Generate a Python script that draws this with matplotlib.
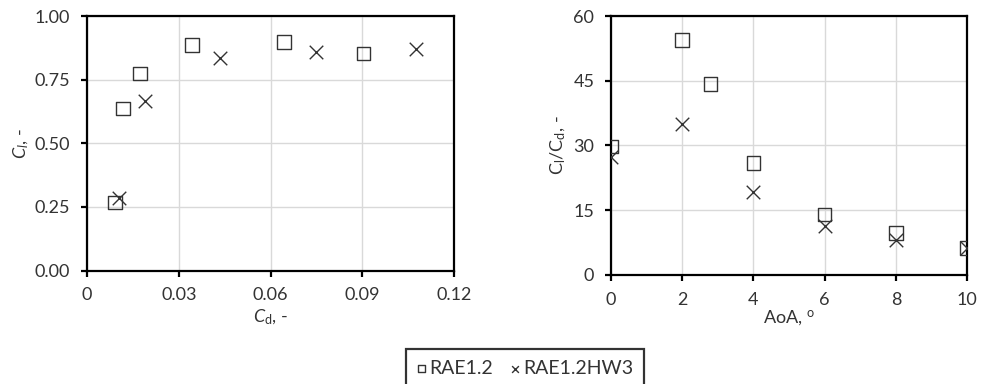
import matplotlib.pyplot as plt

plt.rcParams['font.family'] = ['Lato', 'DejaVu Sans']
plt.rcParams['mathtext.fontset'] = 'custom'
plt.rcParams['mathtext.rm'] = 'Lato'
plt.rcParams['mathtext.it'] = 'Lato:italic'

# left panel: lift vs drag coefficient
cd_rae = [0.0092, 0.0117, 0.0173, 0.0343, 0.0644, 0.0904]
cl_rae = [0.268, 0.637, 0.774, 0.887, 0.898, 0.853]
cd_hw3 = [0.0104, 0.0191, 0.0435, 0.0749, 0.1076]
cl_hw3 = [0.284, 0.668, 0.836, 0.860, 0.872]

# right panel: lift/drag ratio vs angle of attack
aoa_rae = [0, 2, 2.8, 4, 6, 8, 10]
ld_rae = [29.8, 54.4, 44.3, 25.9, 14.0, 9.7, 6.3]
aoa_hw3 = [0, 2, 4, 6, 8, 10]
ld_hw3 = [27.4, 35.0, 19.2, 11.4, 8.2, 6.3]

labels = ["RAE1.2", "RAE1.2HW3"]

FS = 13
TXT = '#333333'

fig = plt.figure(figsize=(9.83, 3.84), dpi=100)
ax1 = fig.add_axes([0.0885, 0.2953, 0.3734, 0.6630])
ax2 = fig.add_axes([0.6216, 0.2839, 0.3622, 0.6744])

sq = dict(marker='s', s=95, facecolors='none', edgecolors='#333333', linewidths=1.0, zorder=3)
cr = dict(marker='x', s=95, c='#333333', linewidths=1.0, zorder=3)


def styleAxes(ax):
    """ grid, spines and ticks like the original """
    ax.grid(True, color='#d9d9d9', linewidth=1)
    ax.set_axisbelow(True)
    for s in ax.spines.values():
        s.set_color('black')
        s.set_linewidth(1.6)
    ax.tick_params(labelsize=FS, direction='out', length=4, width=1.6, colors='black',
                   labelcolor=TXT)
    ax.tick_params(axis='x', pad=8)
    ax.tick_params(axis='y', pad=8)
    ax.xaxis.label.set_va('center')
    ax.yaxis.label.set_va('center')


ax1.scatter(cd_rae, cl_rae, label=labels[0], **sq)
ax1.scatter(cd_hw3, cl_hw3, label=labels[1], **cr)
ax1.set_xlim(0, 0.12)
ax1.set_ylim(0, 1.0)
ax1.set_xticks([0, 0.03, 0.06, 0.09, 0.12])
ax1.set_xticklabels(["0", "0.03", "0.06", "0.09", "0.12"])
ax1.set_yticks([0, 0.25, 0.5, 0.75, 1.0])
ax1.set_yticklabels(["0.00", "0.25", "0.50", "0.75", "1.00"])
ax1.set_xlabel(r"$C_\mathrm{d}$, -", fontsize=FS, color=TXT)
ax1.set_ylabel(r"$C_l$, -", fontsize=FS, color=TXT)
styleAxes(ax1)
ax1.xaxis.set_label_coords(0.5, -0.185)
ax1.yaxis.set_label_coords(-0.18, 0.5)

ax2.scatter(aoa_rae, ld_rae, **sq)
ax2.scatter(aoa_hw3, ld_hw3, **cr)
ax2.set_xlim(0, 10)
ax2.set_ylim(0, 60)
ax2.set_xticks(range(0, 11, 2))
ax2.set_yticks(range(0, 61, 15))
ax2.set_xlabel(r"AoA, $^\mathrm{o}$", fontsize=FS, color=TXT)
ax2.set_ylabel(r"C$_\mathrm{l}$/C$_\mathrm{d}$, -", fontsize=FS, color=TXT)
styleAxes(ax2)
ax2.xaxis.set_label_coords(0.5, -0.166)
ax2.yaxis.set_label_coords(-0.149, 0.5)

leg = fig.legend(loc='upper center', ncol=2, fontsize=14, frameon=True,
                 fancybox=False, edgecolor='black',
                 handlelength=0.5, handletextpad=0.15, columnspacing=0.9,
                 markerscale=0.5, borderpad=0.55, borderaxespad=0)
leg.get_frame().set_linewidth(1.6)
leg.set_bbox_to_anchor((525 / 983, 1 - 349 / 384), transform=fig.transFigure)
for t in leg.get_texts():
    t.set_color(TXT)

fig.savefig("out.png", dpi=100)
